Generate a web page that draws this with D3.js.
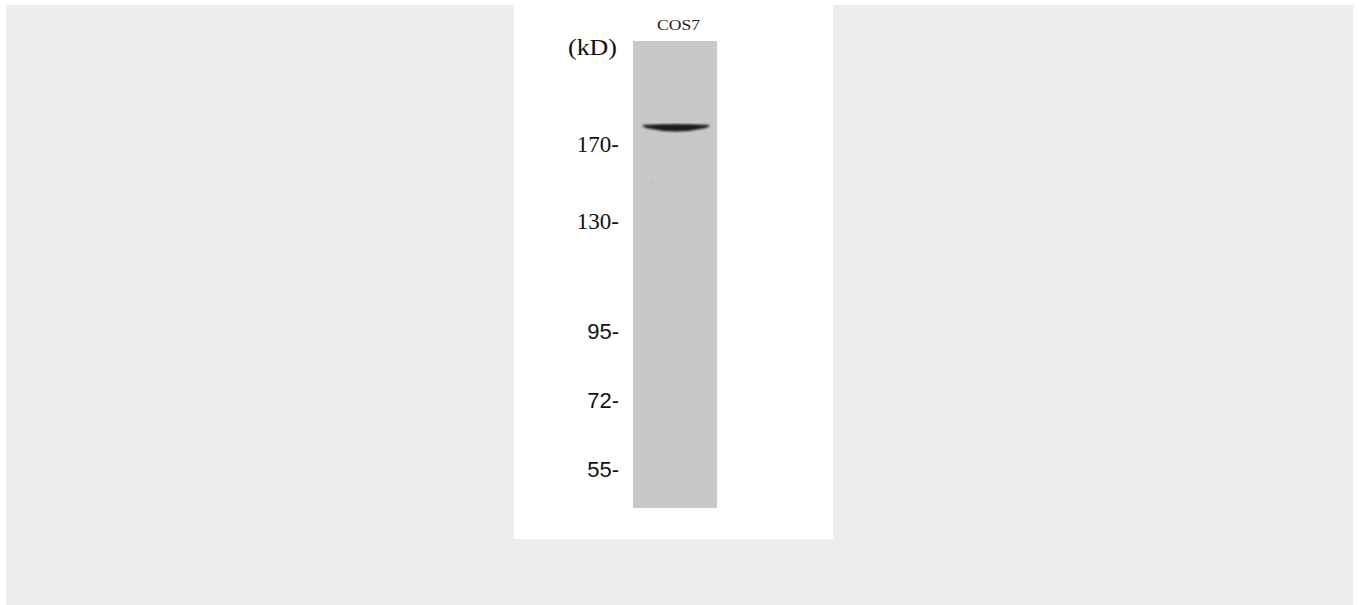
<!DOCTYPE html>
<html><head><meta charset="utf-8">
<script src="https://cdn.jsdelivr.net/npm/d3@7"></script>
<style>html,body{margin:0;padding:0;background:#fff;}svg{display:block;}</style>
</head><body>
<svg id="c" width="1359" height="605"></svg>
<script>
// Data
const lanes = ["COS7"];
const markerKD = [170, 130, 95, 72, 55];
const markerLabels = ["170-", "130-", "95-", "72-", "55-"];
const bandKD = [180];
const bandLane = ["COS7"];
const bandIntensity = [1];

const svg = d3.select("#c");
svg.append("rect").attr("x",6).attr("y",5).attr("width",1347).attr("height",600).attr("fill","#ededed");
svg.append("rect").attr("x",514).attr("y",5).attr("width",319).attr("height",534).attr("fill","#ffffff");

// y scale: piecewise log scale through marker positions
const y = d3.scaleLog().domain(markerKD).range([144, 221, 331, 400, 469]);
const x = d3.scaleBand().domain(lanes).range([633, 717]).padding(0);

// lane
svg.append("rect").attr("x", x("COS7")).attr("y", 41).attr("width", x.bandwidth()).attr("height", 467).attr("fill", "#c8c8c8");

// faint specks
svg.append("circle").attr("cx",652).attr("cy",182).attr("r",2.5).attr("fill","#c0c0c0").attr("opacity",0.7);

const defs = svg.append("defs");
defs.append("filter").attr("id","blur").append("feGaussianBlur").attr("stdDeviation",0.9);

// bands
bandKD.forEach((kd,i)=>{
  const cx = x(bandLane[i]) + x.bandwidth()/2 + 1;
  const cy = y(kd);
  const x0 = 643, x1 = 709;
  const p = d3.path();
  p.moveTo(x0, cy-2.5);
  p.quadraticCurveTo(cx, cy-4.5, x1, cy-2.5);
  p.quadraticCurveTo(x1+1.5, cy-1.5, x1-3, cy+0.5);
  p.quadraticCurveTo(cx, cy+7.5, x0+3, cy+0.5);
  p.quadraticCurveTo(x0-1.5, cy-1.5, x0, cy-2.5);
  p.closePath();
  svg.append("path").attr("d", p.toString()).attr("fill","#1c1c1c")
    .attr("opacity", bandIntensity[i]).attr("filter","url(#blur)");
});

// marker labels
svg.selectAll("text.m").data(markerKD).join("text").attr("class","m")
  .attr("x", 619).attr("y", d => y(d)).attr("dy","0.36em")
  .attr("text-anchor","end")
  .attr("font-family",(d,i)=> i<2 ? "Liberation Serif, Times New Roman, serif" : "Liberation Sans, Arial, sans-serif")
  .attr("font-size",(d,i)=> i<2 ? 23 : 22)
  .attr("fill","#111")
  .text((d,i)=>markerLabels[i]);

svg.append("text").attr("x",568).attr("y",55)
  .attr("font-family","Liberation Serif, Times New Roman, serif").attr("font-size",24)
  .attr("textLength",49).attr("lengthAdjust","spacingAndGlyphs")
  .attr("fill","#111").text("(kD)");

svg.selectAll("text.l").data(lanes).join("text").attr("class","l")
  .attr("x", 657).attr("y", 30)
  .attr("font-family","Liberation Serif, Times New Roman, serif").attr("font-size",15)
  .attr("textLength",43).attr("lengthAdjust","spacingAndGlyphs")
  .attr("fill","#222").text(d=>d);
</script>
</body></html>
